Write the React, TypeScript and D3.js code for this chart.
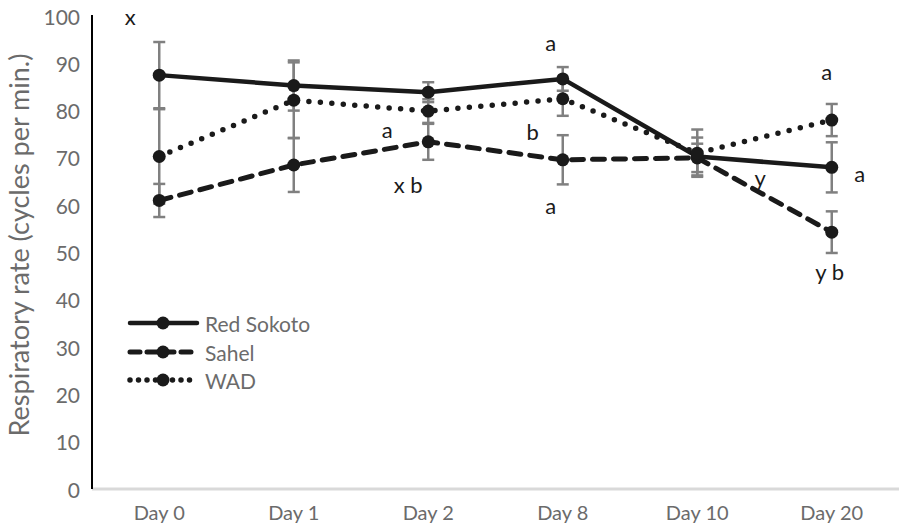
import React from "react";
import * as d3 from "d3";

const categories = ["Day 0", "Day 1", "Day 2", "Day 8", "Day 10", "Day 20"];
const yTicks = [0, 10, 20, 30, 40, 50, 60, 70, 80, 90, 100];

const redSokoto = [87.5, 85.3, 83.9, 86.7, 70.3, 68.0];
const redSokotoErr = [7, 5.3, 2.1, 2.5, 4, 5.3];
const sahel = [61.0, 68.5, 73.4, 69.6, 70.0, 54.3];
const sahelErr = [3.5, 5.7, 3.8, 5.2, 3, 4.4];
const wad = [70.3, 82.2, 79.9, 82.5, 71.0, 78.0];
const wadErr = [10, 8, 2.5, 3.6, 5, 3.4];

const seriesNames = ["Red Sokoto", "Sahel", "WAD"];

const annotations = [
  { text: "x", cat: 0, value: 99.8, dx: -29 },
  { text: "a", cat: 2, value: 75.9, dx: -41 },
  { text: "x b", cat: 2, value: 64.3, dx: -20 },
  { text: "a", cat: 3, value: 94.5, dx: -12 },
  { text: "b", cat: 3, value: 75.5, dx: -30 },
  { text: "a", cat: 3, value: 60.0, dx: -12 },
  { text: "y", cat: 4, value: 65.8, dx: 63 },
  { text: "a", cat: 5, value: 88.2, dx: -5 },
  { text: "a", cat: 5, value: 66.8, dx: 28 },
  { text: "y b", cat: 5, value: 45.9, dx: -2 },
];

const W = 904;
const H = 524;
const left = 92;
const right = 899;
const top = 16;
const bottom = 489;
const FONT = "Lato, 'Open Sans', sans-serif";

export default function App() {
  const x = d3.scaleBand<string>().domain(categories).range([left, right]).padding(0);
  const y = d3.scaleLinear().domain([0, 100]).range([bottom, top]);
  const cx = (i: number) => (x(categories[i]) as number) + x.bandwidth() / 2;

  const series = [
    { name: seriesNames[0], values: redSokoto, err: redSokotoErr, dash: "none", lg: "none", width: 4.5 },
    { name: seriesNames[1], values: sahel, err: sahelErr, dash: "12 9", lg: "10 7", width: 5 },
    { name: seriesNames[2], values: wad, err: wadErr, dash: "0 11.5", lg: "0 8.5", width: 5.5 },
  ];

  const line = d3
    .line<number>()
    .x((_, i) => cx(i))
    .y((d) => y(d));

  const legendY = [323, 352, 380];

  return (
    <svg
      width={W}
      height={H}
      style={{ position: "absolute", left: 0, top: 0, background: "#fff" }}
      fontFamily={FONT}
    >
      <line x1={left} x2={right} y1={y(0)} y2={y(0)} stroke="#d9d9d9" strokeWidth={3} />
      <line x1={left} x2={left} y1={y(100) - 1} y2={y(0)} stroke="#000" strokeWidth={2} />

      {yTicks.map((t) => (
        <text
          key={t}
          x={left - 12}
          y={y(t)}
          textAnchor="end"
          dominantBaseline="central"
          fontSize={21}
          fill="#6b6b6b"
        >
          {t}
        </text>
      ))}
      {categories.map((c, i) => (
        <text
          key={c}
          x={cx(i)}
          y={512}
          textAnchor="middle"
          dominantBaseline="central"
          fontSize={20}
          fill="#6b6b6b"
        >
          {c}
        </text>
      ))}
      <text
        transform={`translate(18, 245) rotate(-90)`}
        textAnchor="middle"
        dominantBaseline="central"
        fontSize={27}
        fill="#6b6b6b"
      >
        Respiratory rate (cycles per min.)
      </text>

      {series.map((s) =>
        s.values.map((v, i) => (
          <g key={s.name + i} stroke="#808080" strokeWidth={2.5}>
            <line x1={cx(i)} x2={cx(i)} y1={y(v - s.err[i])} y2={y(v + s.err[i])} />
            <line x1={cx(i) - 6} x2={cx(i) + 6} y1={y(v - s.err[i])} y2={y(v - s.err[i])} />
            <line x1={cx(i) - 6} x2={cx(i) + 6} y1={y(v + s.err[i])} y2={y(v + s.err[i])} />
          </g>
        ))
      )}

      {series.map((s) => (
        <g key={s.name}>
          <path
            d={line(s.values) || ""}
            fill="none"
            stroke="#1a1a1a"
            strokeWidth={s.width}
            strokeDasharray={s.dash}
            strokeLinecap="round"
            strokeLinejoin="round"
          />
          {s.values.map((v, i) => (
            <circle key={i} cx={cx(i)} cy={y(v)} r={6.5} fill="#1a1a1a" />
          ))}
        </g>
      ))}

      {annotations.map((a, i) => (
        <text
          key={i}
          x={cx(a.cat) + a.dx}
          y={y(a.value)}
          textAnchor="middle"
          dominantBaseline="central"
          fontSize={22}
          fill="#1a1a1a"
        >
          {a.text}
        </text>
      ))}

      {series.map((s, i) => (
        <g key={"lg" + s.name}>
          <line
            x1={130}
            x2={197}
            y1={legendY[i]}
            y2={legendY[i]}
            stroke="#1a1a1a"
            strokeWidth={s.width}
            strokeDasharray={s.lg}
            strokeLinecap="round"
          />
          <circle cx={163} cy={legendY[i]} r={6.5} fill="#1a1a1a" />
          <text x={205} y={legendY[i]} dominantBaseline="central" fontSize={21} fill="#6b6b6b">
            {s.name}
          </text>
        </g>
      ))}
    </svg>
  );
}
